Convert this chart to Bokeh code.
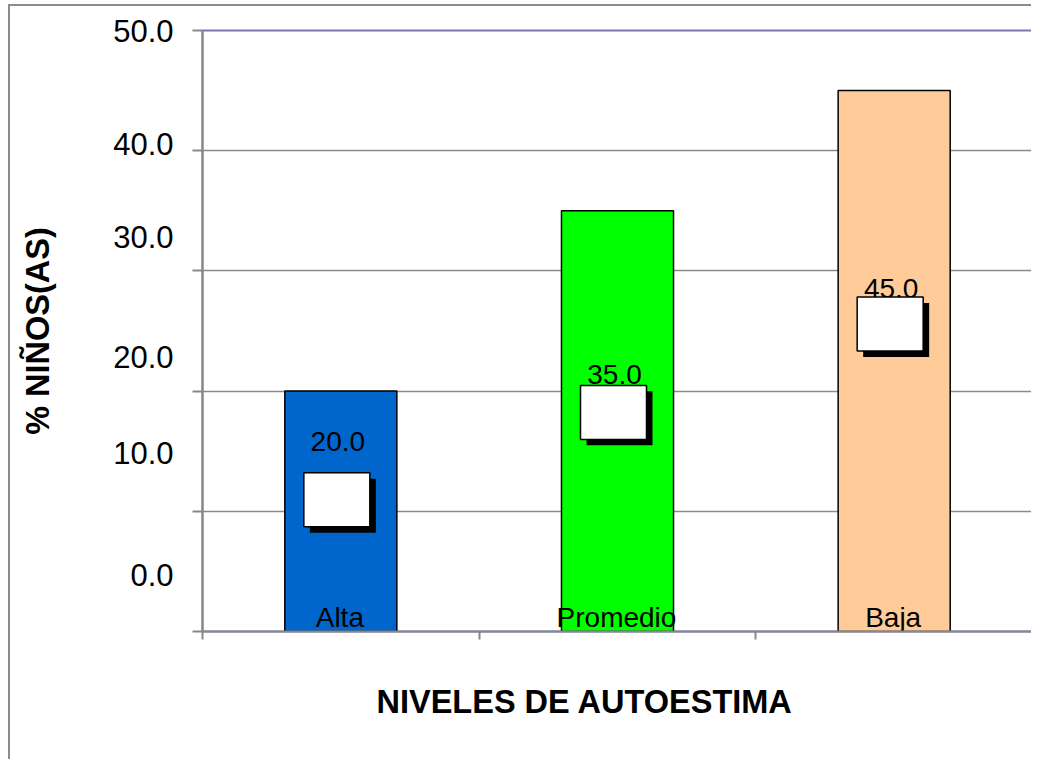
from bokeh.plotting import figure
from bokeh.models import FixedTicker, Range1d, LinearAxis, Title
from bokeh.core.properties import value
from bokeh.embed import file_html
from bokeh.resources import INLINE

# ---- data ----
categories = ["Alta", "Promedio", "Baja"]
values = [20.0, 35.0, 45.0]
bar_colors = ["#0066CC", "#00FF00", "#FFCC99"]
y_ticks = [0, 10, 20, 30, 40, 50]
y_tick_labels = ["0.0", "10.0", "20.0", "30.0", "40.0", "50.0"]
x_title = "NIVELES DE AUTOESTIMA"
y_title = "% NIÑOS(AS)"

# ---- layout / style constants ----
FONT_NAME = "Liberation Sans"
FONT = value(FONT_NAME)
FRAME_W, FRAME_H = 830, 602
Y_MAX = 50
PX_X = FRAME_W / len(categories)
PX_Y = FRAME_H / Y_MAX
tick_label_shift_px = [56.5, 58, 34, 34, 6.3, 0]        # Excel's offset labels
data_label_y = [15.8, 21.35, 28.5]                      # label centres (data units)
box_y = [10.96, 18.23, 25.58]                           # white label boxes
xs = [i + 0.5 for i in range(len(categories))]

H = 755
p = figure(width=1023, height=H,
           x_range=Range1d(0, len(categories)), y_range=Range1d(0, Y_MAX),
           output_backend="svg", toolbar_location=None,
           min_border_left=192, min_border_top=24, min_border_right=1,
           min_border_bottom=H - 24 - FRAME_H)
p.styles = {"margin-left": "8px", "margin-top": "4px",
            "border-left": "2px solid #8c8c8c", "border-top": "2px solid #8c8c8c"}

p.xgrid.visible = False
p.ygrid.ticker = FixedTicker(ticks=y_ticks)
p.ygrid.grid_line_color = "#8a8a8a"
p.ygrid.grid_line_width = 1.5
p.outline_line_color = "#7878B4"
p.outline_line_width = 2

for ax in (p.xaxis[0], p.yaxis[0]):
    ax.axis_line_color = "#888888"
    ax.axis_line_width = 2
    ax.major_tick_line_color = "#888888"
    ax.major_tick_line_width = 2
    ax.minor_tick_line_color = None
    ax.major_tick_in = 0
    ax.major_label_standoff = 0
    ax.major_label_text_font_size = "0px"
p.yaxis.ticker = FixedTicker(ticks=y_ticks)
p.yaxis.major_tick_out = 10
p.yaxis.major_label_overrides = {t: "" for t in y_ticks}
p.xaxis.ticker = FixedTicker(ticks=list(range(len(categories) + 1)))
p.xaxis.major_tick_out = 8
p.xaxis.major_label_overrides = {t: "" for t in range(len(categories) + 1)}

# second left axis carrying Excel's offset tick labels and the y title
label_pos = [round(min(t + sh / PX_Y, Y_MAX), 4)
             for t, sh in zip(y_ticks, tick_label_shift_px)]
lab_axis = LinearAxis(ticker=FixedTicker(ticks=label_pos),
                      major_label_overrides=dict(zip(label_pos, y_tick_labels)),
                      axis_line_color=None, major_tick_line_color=None,
                      minor_tick_line_color=None, major_tick_out=0, major_tick_in=0,
                      major_label_standoff=19,
                      major_label_text_font=FONT_NAME,
                      major_label_text_font_size="31px",
                      major_label_text_color="black",
                      axis_label=y_title, axis_label_standoff=54,
                      axis_label_text_font=FONT_NAME,
                      axis_label_text_font_size="32.5px",
                      axis_label_text_font_style="bold",
                      axis_label_text_color="black")
p.add_layout(lab_axis, "left")

# x title
p.add_layout(Title(text=x_title, align="left", offset=174, standoff=84,
                   text_font=FONT_NAME, text_font_size="32.5px",
                   text_font_style="bold", text_color="black"), "below")

# bars
p.vbar(x=xs, top=values, width=0.405, fill_color=bar_colors,
       line_color="black", line_width=1.5)

# data labels
p.text(x=xs, y=data_label_y, text=[f"{v:.1f}" for v in values], x_offset=-3,
       text_font=FONT, text_font_size="28px", text_color="black",
       text_align="center", text_baseline="middle")

# white label boxes with shadow
bx = [x - 4 / PX_X for x in xs]
p.rect(x=[x + 6 / PX_X for x in bx], y=[y - 6 / PX_Y for y in box_y],
       width=66, height=54, width_units="screen", height_units="screen",
       fill_color="black", line_color=None)
p.rect(x=bx, y=box_y, width=66, height=54, width_units="screen",
       height_units="screen", fill_color="white", line_color="black",
       line_width=1.5)

# category labels inside bars
p.text(x=[x - 1 / PX_X for x in xs], y=[14.5 / PX_Y] * len(xs), text=categories,
       text_font=FONT, text_font_size="28px", text_color="black",
       text_align="center", text_baseline="middle")

open("out.html", "w").write(file_html(p, INLINE))
